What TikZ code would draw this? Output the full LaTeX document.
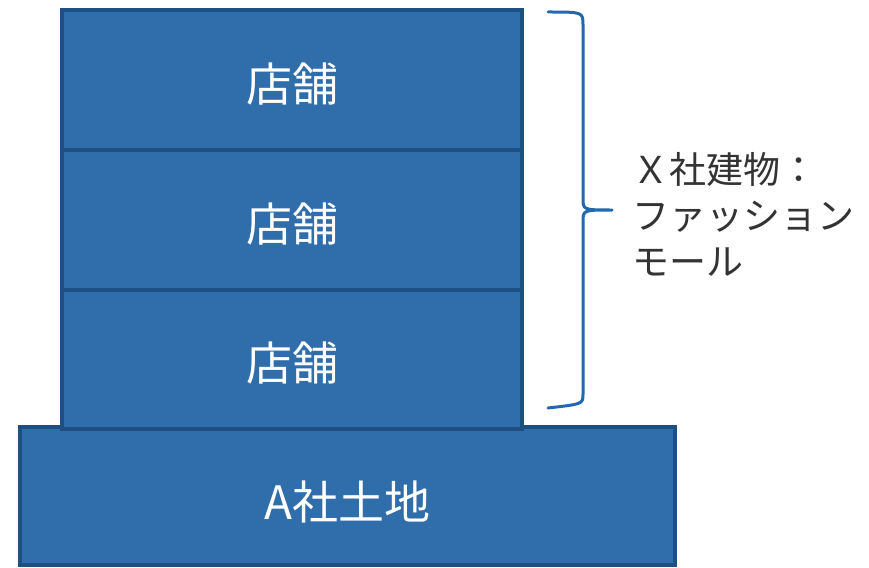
\documentclass[tikz,border=0pt]{standalone}
\usepackage{fontspec}
\newfontfamily\jp{Noto Sans CJK JP}
\definecolor{boxfill}{HTML}{2F6EAA}
\definecolor{boxedge}{HTML}{1D4F82}
\definecolor{bracecol}{HTML}{2268AE}
\definecolor{txtcol}{HTML}{333333}
\newcommand{\dn}[2]{\raisebox{-#1}[\height][\depth]{#2}}
\tikzset{
  box/.style={draw=boxedge, line width=3.5pt, fill=boxfill, text=white, inner sep=0pt,
    font=\jp\fontsize{46}{50}\selectfont},
  bracestyle/.style={draw=bracecol, line width=3pt, line cap=round, line join=round},
  lbl/.style={text=txtcol, align=left, anchor=west, inner sep=0pt,
    font=\jp\fontsize{37}{46}\selectfont}
}
\begin{document}
\begin{tikzpicture}[x=1pt,y=-1pt]
\fill[white] (0,0) rectangle (869,567);
\useasboundingbox (0,0) rectangle (869,567);
\node[box, minimum width=655pt, minimum height=138pt] (base) at (347.5,496) {\dn{6pt}{A社土地}};
\node[box, minimum width=460pt, minimum height=140pt] (s3) at (292,359) {\dn{4pt}{店舗}};
\node[box, minimum width=460pt, minimum height=140pt] (s2) at (292,220) {\dn{4pt}{店舗}};
\node[box, minimum width=460pt, minimum height=140pt] (s1) at (292,80) {\dn{4pt}{店舗}};
\draw[bracestyle] (548,12) .. controls (583,12) .. (583,25) -- (583,198)
  .. controls (583,210) .. (612,210)
  .. controls (583,210) .. (583,222) -- (583,394)
  .. controls (583,404) .. (548,408);
\node[lbl] (label) at (632,214) {Ｘ社建物：\\ファッション\\モール};
\end{tikzpicture}
\end{document}
